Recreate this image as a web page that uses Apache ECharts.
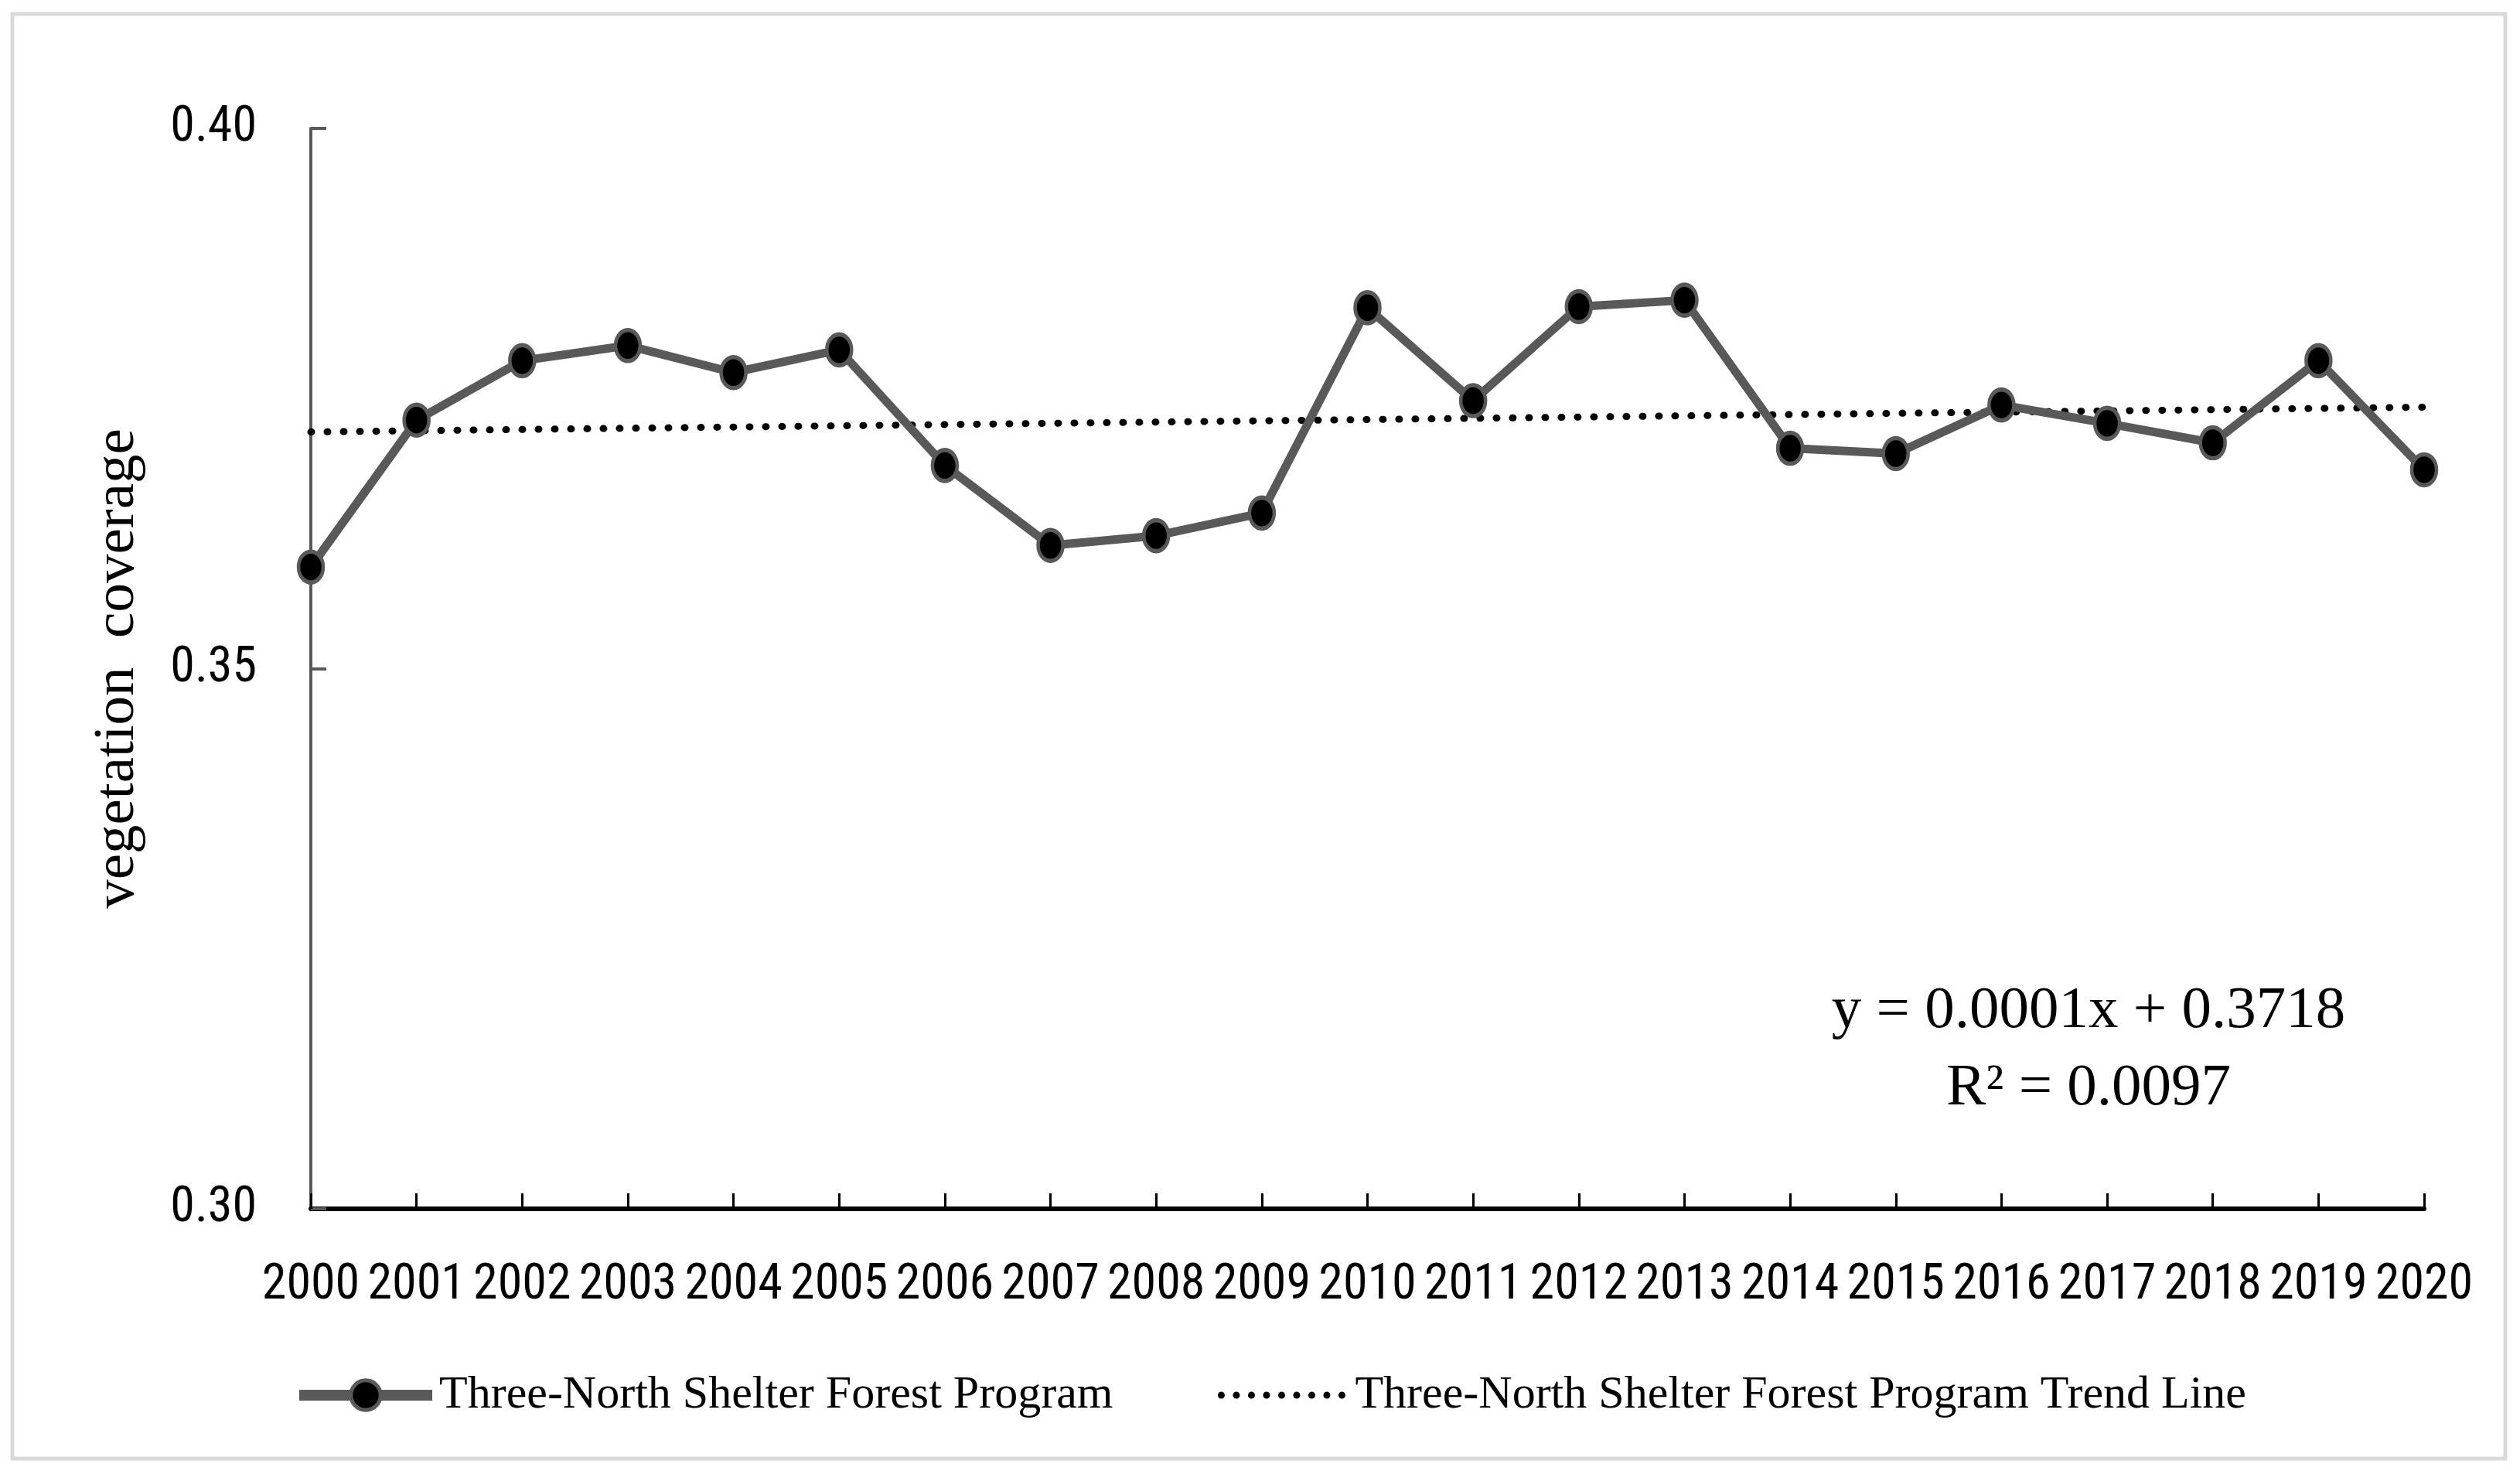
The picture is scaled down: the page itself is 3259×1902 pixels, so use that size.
<!DOCTYPE html>
<html>
<head>
<meta charset="utf-8">
<script src="https://cdn.jsdelivr.net/npm/echarts@6/dist/echarts.min.js"></script>
<style>
html,body{margin:0;padding:0;background:#fff;}
#chart{width:3259px;height:1902px;}
</style>
</head>
<body>
<div id="chart"></div>
<script>
const years = ['2000','2001','2002','2003','2004','2005','2006','2007','2008','2009','2010','2011','2012','2013','2014','2015','2016','2017','2018','2019','2020'];
const coverage = [0.3594,0.3730,0.3785,0.3799,0.3774,0.3795,0.3688,0.3614,0.3623,0.3644,0.3834,0.3748,0.3835,0.3841,0.3704,0.3699,0.3744,0.3727,0.3709,0.3785,0.3684];
const trendYears = ['2000','2020'];
const trendValues = [0.3719,0.3742];
const yTicks = {min:0.30, max:0.40, interval:0.05};
const seriesName = 'Three-North Shelter Forest Program';
const trendName = 'Three-North Shelter Forest Program Trend Line';
const equationLines = ['y = 0.0001x + 0.3718','R² = 0.0097'];

const chart = echarts.init(document.getElementById('chart'), null, {renderer:'canvas'});
const sansNarrow = "'Liberation Sans Narrow','Roboto Condensed','Liberation Sans',sans-serif";
const serif = "'Liberation Serif','DejaVu Serif',serif";

// dotted legend icon: row of dots in a 172x48 box
let dotPath = 'M0 0 L0.01 0 Z M172 48 L171.99 48 Z';
for (let i = 0; i < 9; i++) {
  const cx = 8 + i * 19.5, cy = 24, r = 4.5;
  dotPath += ` M${cx - r} ${cy} A${r} ${r} 0 1 0 ${cx + r} ${cy} A${r} ${r} 0 1 0 ${cx - r} ${cy} Z`;
}

chart.setOption({
  backgroundColor:'#fff',
  animation:false,
  graphic:[
    {type:'rect', shape:{x:16,y:18,width:3224,height:1868}, style:{fill:'none',stroke:'#d9d9d9',lineWidth:5}, z:-1},
    {type:'text', x:2701, y:1308, style:{text:equationLines[0], font:"77px 'Liberation Serif',serif", fill:'#000', textAlign:'center', textVerticalAlign:'middle'}, z:10},
    {type:'text', x:2701, y:1408, style:{text:equationLines[1], font:"77px 'Liberation Serif',serif", fill:'#000', textAlign:'center', textVerticalAlign:'middle'}, z:10}
  ],
  grid:{left:402, right:124, top:166, bottom:339, containLabel:false},
  legend:{
    left:375, top:1769,
    itemWidth:172, itemHeight:48, itemGap:132,
    textStyle:{fontFamily:serif, fontSize:60, color:'#000', padding:[0,0,0,4]},
    data:[
      {name:seriesName, lineStyle:{width:14, color:'#595959'}, itemStyle:{color:'#000', borderColor:'#595959', borderWidth:5}},
      {name:trendName, icon:'path://' + dotPath, itemStyle:{color:'#000', borderWidth:0}}
    ]
  },
  xAxis:{
    type:'category', data:years, boundaryGap:false,
    axisLine:{show:true, lineStyle:{color:'#000', width:6}},
    axisTick:{show:true, inside:true, length:20, lineStyle:{color:'#000', width:3}},
    axisLabel:{fontFamily:sansNarrow, fontSize:64, color:'#000', margin:68, interval:0},
    splitLine:{show:false}
  },
  yAxis:{
    type:'value', min:yTicks.min, max:yTicks.max, interval:yTicks.interval,
    name:'vegetation  coverage', nameLocation:'middle', nameGap:212,
    nameTextStyle:{fontFamily:serif, fontSize:75, color:'#000'},
    axisLine:{show:true, lineStyle:{color:'#595959', width:4}},
    axisTick:{show:true, inside:true, length:20, lineStyle:{color:'#595959', width:4}},
    axisLabel:{fontFamily:sansNarrow, fontSize:64, color:'#000', margin:70, formatter:v=>v.toFixed(2)},
    splitLine:{show:false}
  },
  series:[
    {
      name:trendName, type:'line',
      data:trendYears.map((y,i)=>[y,trendValues[i]]),
      symbol:'none',
      lineStyle:{color:'#000', width:9, type:[1,20], cap:'round'},
      itemStyle:{color:'#000'},
      z:3
    },
    {
      name:seriesName, type:'line', data:coverage,
      symbol:'circle', symbolSize:[32,40],
      lineStyle:{color:'#595959', width:11},
      itemStyle:{color:'#000', borderColor:'#595959', borderWidth:5},
      z:4
    }
  ]
});
</script>
</body>
</html>
